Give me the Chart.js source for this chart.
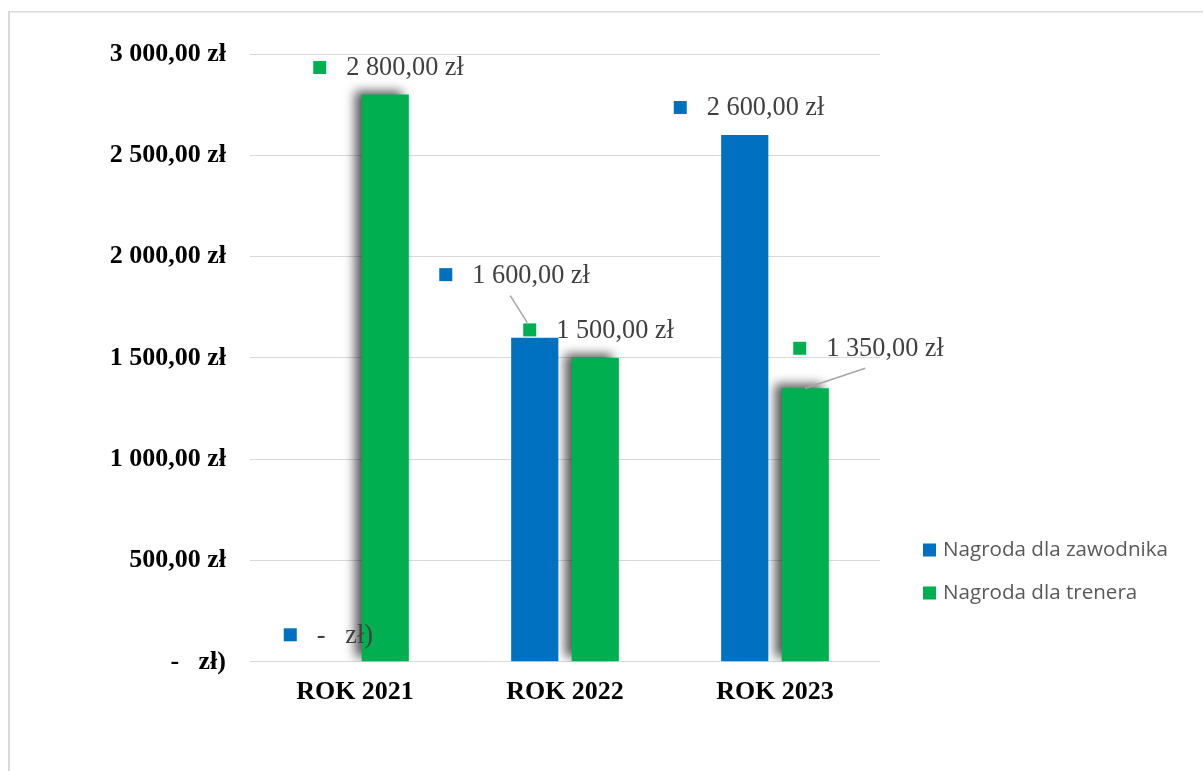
<!DOCTYPE html>
<html><head><meta charset="utf-8">
<script src="https://cdn.jsdelivr.net/npm/chart.js@4/dist/chart.umd.min.js"></script>
<style>html,body{margin:0;padding:0;background:#fff;overflow:hidden}#wrap{position:relative;width:1203px;height:771px}</style>
</head><body><div id="wrap"><canvas id="c" width="1203" height="771"></canvas></div>
<script>
// ---- data ----
const categories = ['ROK 2021', 'ROK 2022', 'ROK 2023'];
const seriesNames = ['Nagroda dla zawodnika', 'Nagroda dla trenera'];
const playerAward = [0, 1600, 2600];
const coachAward = [2800, 1500, 1350];
const yTickLabels = ['-   zł)', '500,00 zł', '1 000,00 zł', '1 500,00 zł', '2 000,00 zł', '2 500,00 zł', '3 000,00 zł'];

// ---- styles ----
const seriesColors = ['#0070C0', '#00B050'];
const labelOffsets = [
  [{dx: -41, dy: -27}, {dx: -95.5, dy: -63, line: [-24.5, -42, -7.5, -15]}, {dx: -71, dy: -27.5}],
  [{dx: -72, dy: -27}, {dx: -72, dy: -28}, {dx: -12, dy: -40, line: [60, -20, 0, 0]}]
];

function fmtPLN(v) {
  if (v === 0) return '-   zł)';
  const s = Math.round(v).toString().replace(/\B(?=(\d{3})+(?!\d))/g, ' ');
  return s + ',00 zł';
}

const framePlugin = {
  id: 'frame',
  beforeDraw(chart) {
    const ctx = chart.ctx;
    ctx.save();
    ctx.fillStyle = '#fff';
    ctx.fillRect(0, 0, chart.width, chart.height);
    ctx.fillStyle = '#dadada';
    ctx.fillRect(8, 11, 2, chart.height - 11);
    ctx.fillRect(8, 11, chart.width - 8, 1.5);
    ctx.restore();
  }
};

const shadowPlugin = {
  id: 'barShadow',
  beforeDatasetDraw(chart, args) {
    if (args.index === 1) {
      const ctx = chart.ctx;
      ctx.save();
      ctx.shadowColor = 'rgba(0,0,0,0.65)';
      ctx.shadowBlur = 10;
      ctx.shadowOffsetX = -7;
      ctx.shadowOffsetY = -4;
    }
  },
  afterDatasetDraw(chart, args) {
    if (args.index === 1) chart.ctx.restore();
  }
};

const labelPlugin = {
  id: 'valueLabels',
  afterDatasetsDraw(chart) {
    const ctx = chart.ctx;
    ctx.save();
    chart.data.datasets.forEach((ds, di) => {
      const meta = chart.getDatasetMeta(di);
      meta.data.forEach((el, i) => {
        const off = labelOffsets[di][i];
        const x = el.x, y = el.y;
        if (off.line) {
          ctx.strokeStyle = '#a6a6a6';
          ctx.lineWidth = 1.5;
          ctx.beginPath();
          ctx.moveTo(x + off.line[0], y + off.line[1]);
          ctx.lineTo(x + off.line[2], y + off.line[3]);
          ctx.stroke();
        }
        const mx = x + off.dx, my = y + off.dy;
        ctx.fillStyle = seriesColors[di];
        ctx.fillRect(mx, my - 6.5, 13, 13);
        ctx.fillStyle = '#404040';
        ctx.font = '26.3px "Liberation Serif", "Times New Roman", serif';
        ctx.textBaseline = 'middle';
        ctx.textAlign = 'left';
        ctx.fillText(fmtPLN(ds.data[i]), mx + 33, my + 1);
      });
    });
    ctx.restore();
  }
};

const legendPlugin = {
  id: 'customLegend',
  afterDraw(chart) {
    const ctx = chart.ctx;
    ctx.save();
    const ys = [550, 593];
    chart.data.datasets.forEach((ds, di) => {
      ctx.fillStyle = seriesColors[di];
      ctx.fillRect(923, ys[di] - 6.5, 13, 13);
      ctx.fillStyle = '#595959';
      ctx.font = '20.6px "Open Sans", sans-serif';
      ctx.textBaseline = 'middle';
      ctx.textAlign = 'left';
      ctx.fillText(ds.label, 943, ys[di]);
    });
    ctx.restore();
  }
};

new Chart(document.getElementById('c'), {
  type: 'bar',
  data: {
    labels: categories,
    datasets: [
      {label: seriesNames[0], data: playerAward, backgroundColor: seriesColors[0]},
      {label: seriesNames[1], data: coachAward, backgroundColor: seriesColors[1]}
    ]
  },
  options: {
    responsive: false,
    animation: false,
    devicePixelRatio: 1,
    categoryPercentage: 0.576,
    barPercentage: 0.78,
    layout: {padding: {left: 0, right: 323, top: 54, bottom: 56}},
    plugins: {legend: {display: false}, tooltip: {enabled: false}},
    scales: {
      x: {
        grid: {display: false},
        border: {display: false},
        ticks: {
          color: '#000',
          padding: 7,
          font: {family: '"Liberation Serif", "Times New Roman", serif', size: 26, weight: 'bold'}
        }
      },
      y: {
        min: 0, max: 3000,
        afterFit(scale) { scale.width = 250; },
        grid: {color: '#d9d9d9', lineWidth: 1, drawTicks: false},
        border: {display: false},
        ticks: {
          stepSize: 500,
          padding: 24,
          color: '#000',
          font: {family: '"Liberation Serif", "Times New Roman", serif', size: 26, weight: 'bold'},
          callback: (v, i) => yTickLabels[i]
        }
      }
    }
  },
  plugins: [framePlugin, shadowPlugin, labelPlugin, legendPlugin]
});
</script>
</body></html>
